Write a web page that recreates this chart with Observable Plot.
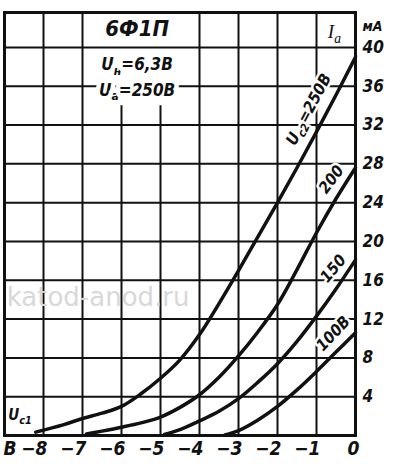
<!DOCTYPE html>
<html><head><meta charset="utf-8">
<script src="https://cdn.jsdelivr.net/npm/d3@7"></script>
<script src="https://cdn.jsdelivr.net/npm/@observablehq/plot@0.6"></script>
<style>
html,body{margin:0;padding:0;background:#fff;}
#chart{width:395px;height:469px;overflow:hidden}
</style></head><body><div id="chart"></div>
<script>
// Axis ticks / grid
const xTicks = [-8, -7, -6, -5, -4, -3, -2, -1, 0];
const yTicks = [4, 8, 12, 16, 20, 24, 28, 32, 36, 40];
const gridX = [-8, -7, -4, -3, -2, -1];
const gridXShort = [-6, -5];          // interrupted by the title block
const gridY = [4, 8, 12, 16, 20, 24, 28, 32, 36, 40];

// Ia (mA) vs Uc1 (V) for screen-grid voltages
const ug1_250 = [-8.2, -7.5, -7, -6.5, -6, -5.5, -5, -4.5, -4, -3.5, -3, -2.5, -2, -1.5, -1, -0.5, 0];
const ia_250  = [0.35, 1.1, 1.75, 2.3, 3.0, 4.3, 5.9, 7.8, 10.4, 13.6, 17.0, 20.5, 24.0, 27.6, 31.3, 35.1, 39.0];
const ug1_200 = [-6.9, -6.5, -6, -5.5, -5, -4.5, -4, -3.5, -3, -2.5, -2, -1.5, -1, -0.5, 0];
const ia_200  = [0.15, 0.45, 0.85, 1.3, 1.9, 2.9, 4.2, 6.0, 8.2, 10.7, 13.5, 17.1, 20.9, 24.4, 27.6];
const ug1_150 = [-4.9, -4.5, -4, -3.5, -3, -2.5, -2, -1.5, -1, -0.5, 0];
const ia_150  = [0.1, 0.6, 1.5, 2.5, 3.8, 5.5, 7.4, 9.7, 12.3, 15.1, 18.1];
const ug1_100 = [-3.35, -3, -2.5, -2, -1.5, -1, -0.5, 0];
const ia_100  = [0.05, 0.5, 1.6, 3.0, 4.7, 6.6, 8.6, 10.6];

const seriesNames = ["250", "200", "150", "100"];
const seriesX = [ug1_250, ug1_200, ug1_150, ug1_100];
const seriesY = [ia_250, ia_200, ia_150, ia_100];

// Curve labels
const curveLabels = ["U_{c2}=250В", "200", "150", "100В"];
const curveLabelX = [-1.2, -0.62, -0.57, -0.57];
const curveLabelY = [33.6, 26.4, 17.2, 10.5];
const curveLabelAngle = [-62, -53, -50, -47];

// Other texts
const titleText = "6Ф1П";
const condText = ["U_{н}=6,3В", "U_{а}=250В"];
const yUnit = "мА";
const yName = "I_{a}";
const xName = "U_{c1}";
const xUnit = "В";
const watermark = "katod-anod.ru";

const rows = [];
seriesNames.forEach((s, i) => seriesX[i].forEach((x, j) => rows.push({s, x, y: seriesY[i][j]})));
const lbl = curveLabels.map((t, i) => ({t, x: curveLabelX[i], y: curveLabelY[i], a: curveLabelAngle[i]}));

const FONT = '"DejaVu Sans Condensed","Liberation Sans Narrow","DejaVu Sans",sans-serif';
const INK = "#111";
const bi = {fontFamily: FONT, fontWeight: "bold", fontStyle: "italic", fill: INK};

const chart = Plot.plot({
  width: 395, height: 469,
  marginLeft: 4, marginRight: 40, marginTop: 12, marginBottom: 34,
  x: {domain: [-9, 0]},
  y: {domain: [0, 43.6]},
  style: {background: "#fff", color: INK, fontFamily: FONT},
  marks: [
    Plot.ruleX(gridX, {stroke: INK, strokeWidth: 2}),
    Plot.ruleX(gridXShort, {y1: 0, y2: 34, stroke: INK, strokeWidth: 2}),
    Plot.ruleY(gridY, {stroke: INK, strokeWidth: 2}),
    Plot.frame({stroke: INK, strokeWidth: 3}),
    Plot.text([watermark], {x: () => -6.6, y: () => 14.2, text: d => d, fontFamily: '"DejaVu Sans",sans-serif', fontSize: 26, fill: "#d8d8d8"}),
    Plot.line(rows, {x: "x", y: "y", z: "s", curve: "catmull-rom", stroke: INK, strokeWidth: 3.5}),
    Plot.text(lbl, {x: "x", y: "y", text: "t", rotate: "a", fontSize: 16, ...bi, stroke: "#fff", strokeWidth: 5}),
    Plot.text([titleText], {x: () => -5.6, y: () => 41.9, text: d => d, fontSize: 22, ...bi, stroke: "#fff", strokeWidth: 10}),
    Plot.text(condText, {x: () => -5.6, y: (d, i) => [38.2, 35.6][i], text: d => d, fontSize: 17, ...bi, stroke: "#fff", strokeWidth: 9}),
    Plot.text([yName], {x: () => -0.54, y: () => 41.6, text: d => d, fontSize: 19, fontFamily: '"Liberation Serif",serif', fontStyle: "italic", fill: INK}),
    Plot.text([yUnit], {x: () => 0, y: () => 42.2, dx: 7, textAnchor: "start", text: d => d, fontSize: 14, ...bi}),
    Plot.text([xName], {x: () => -8.6, y: () => 2.1, text: d => d, fontSize: 15, ...bi}),
    Plot.text([xUnit], {x: () => -9, y: () => 0, dx: -1, dy: 6, textAnchor: "start", lineAnchor: "top", text: d => d, fontSize: 19, ...bi}),
    Plot.axisX({ticks: xTicks, tickSize: 0, tickPadding: 6, textAnchor: "end", dx: 4, fontSize: 19, ...bi, label: null}),
    Plot.axisY({anchor: "right", ticks: yTicks, tickSize: 0, tickPadding: 7, fontSize: 17, ...bi, label: null})
  ]
});

// subscripts: "_{...}" -> lowered, smaller tspan
d3.select(chart).selectAll("text").each(function () {
  const t = this.textContent;
  if (!t.includes("_{")) return;
  const sel = d3.select(this);
  sel.text(null);
  let after = false;
  t.split(/(_\{[^}]*\})/).forEach(p => {
    if (!p) return;
    if (p.startsWith("_{")) {
      sel.append("tspan").attr("font-size", "72%").attr("dy", "0.35em").text(p.slice(2, -1));
      after = true;
    } else {
      const ts = sel.append("tspan").text(p);
      if (after) { ts.attr("dy", "-0.252em"); after = false; }
    }
  });
});

document.getElementById("chart").appendChild(chart);
</script>
</body></html>
